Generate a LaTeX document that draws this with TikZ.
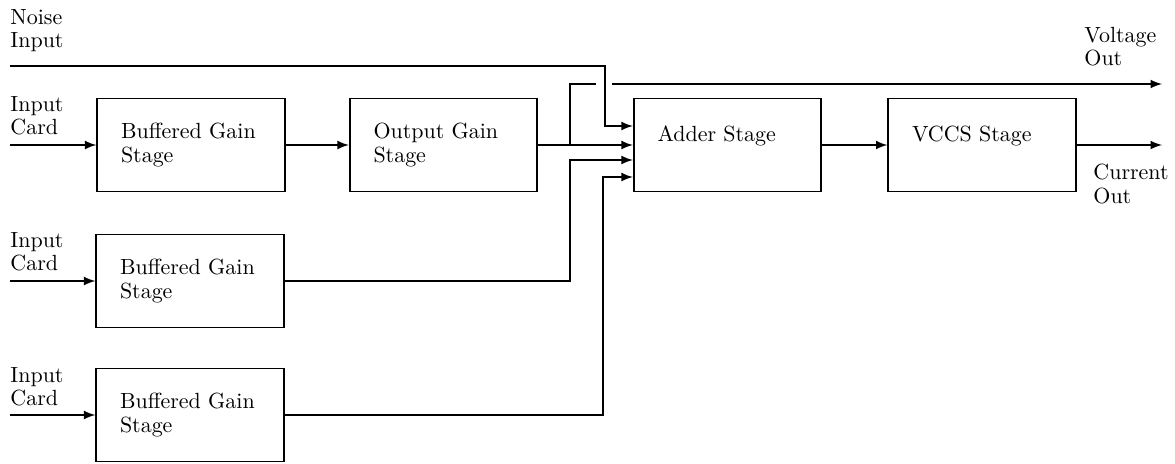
\documentclass[tikz,border=0pt]{standalone}
\usepackage{xcolor}
\usetikzlibrary{arrows}

\tikzset{
    stage/.style={draw, thick, minimum width=3.0cm, minimum height=1.49cm,
        text width=2.24cm, align=left, inner sep=0pt,
        font=\fontsize{10}{10.5}\selectfont},
    lbl/.style={align=left, anchor=west, inner sep=0pt,
        font=\fontsize{10}{10.5}\selectfont},
    sig/.style={thick, -latex}
}

\begin{document}
\begin{tikzpicture}[x=0.016cm, y=-0.016cm]
    \useasboundingbox (0,0) rectangle (1175,463);

    % 方框
    \node[stage] (bgsA) at (191,145) {Buffered Gain\\Stage};
    \node[stage] (ogs) at (443.5,145) {Output Gain\\Stage};
    \node[stage] (adder) at (727.5,145) {Adder Stage\\~};
    \node[stage] (vccs) at (982,145) {VCCS Stage\\~};
    \node[stage] (bgsB) at (190,281) {Buffered Gain\\Stage};
    \node[stage] (bgsC) at (190,415) {Buffered Gain\\Stage};

    % 定义点变量
    \coordinate (noiseIn) at (10,66);
    \coordinate (inA) at (10,145);
    \coordinate (inB) at (10,281);
    \coordinate (inC) at (10,415);
    \coordinate (nA) at (605,126);
    \coordinate (tap) at (570,145);
    \coordinate (gapL) at (596,84);
    \coordinate (gapR) at (612,84);
    \coordinate (voltOut) at (1162,84);
    \coordinate (curOut) at (1162,145);
    \coordinate (tapB) at (570,160);
    \coordinate (tapC) at (603,177);

    % 文字
    \node[lbl] (noiseTxt) at (10,30.5) {Noise\\Input};
    \node[lbl] (cardA) at (10,116) {Input\\Card};
    \node[lbl] (cardB) at (10,251.5) {Input\\Card};
    \node[lbl] (cardC) at (10,386.5) {Input\\Card};
    \node[lbl] (voltTxt) at (1084,46.5) {Voltage\\Out};
    \node[lbl] (curTxt) at (1093,184) {Current\\Out};

    % 连线
    \draw[sig] (inA) -- (bgsA);
    \draw[sig] (inB) -- (bgsB);
    \draw[sig] (inC) -- (bgsC);
    \draw[sig] (bgsA) -- (ogs);
    \draw[sig] (ogs) -- (adder);
    \draw[sig] (noiseIn) -| (nA) -- (nA -| adder.west);
    \draw[thick] (tap) |- (gapL);
    \draw[sig] (gapR) -- (voltOut);
    \draw[sig] (bgsB) -| (tapB) -- (tapB -| adder.west);
    \draw[sig] (bgsC) -| (tapC) -- (tapC -| adder.west);
    \draw[sig] (adder) -- (vccs);
    \draw[sig] (vccs) -- (curOut);

\end{tikzpicture}
\end{document}
